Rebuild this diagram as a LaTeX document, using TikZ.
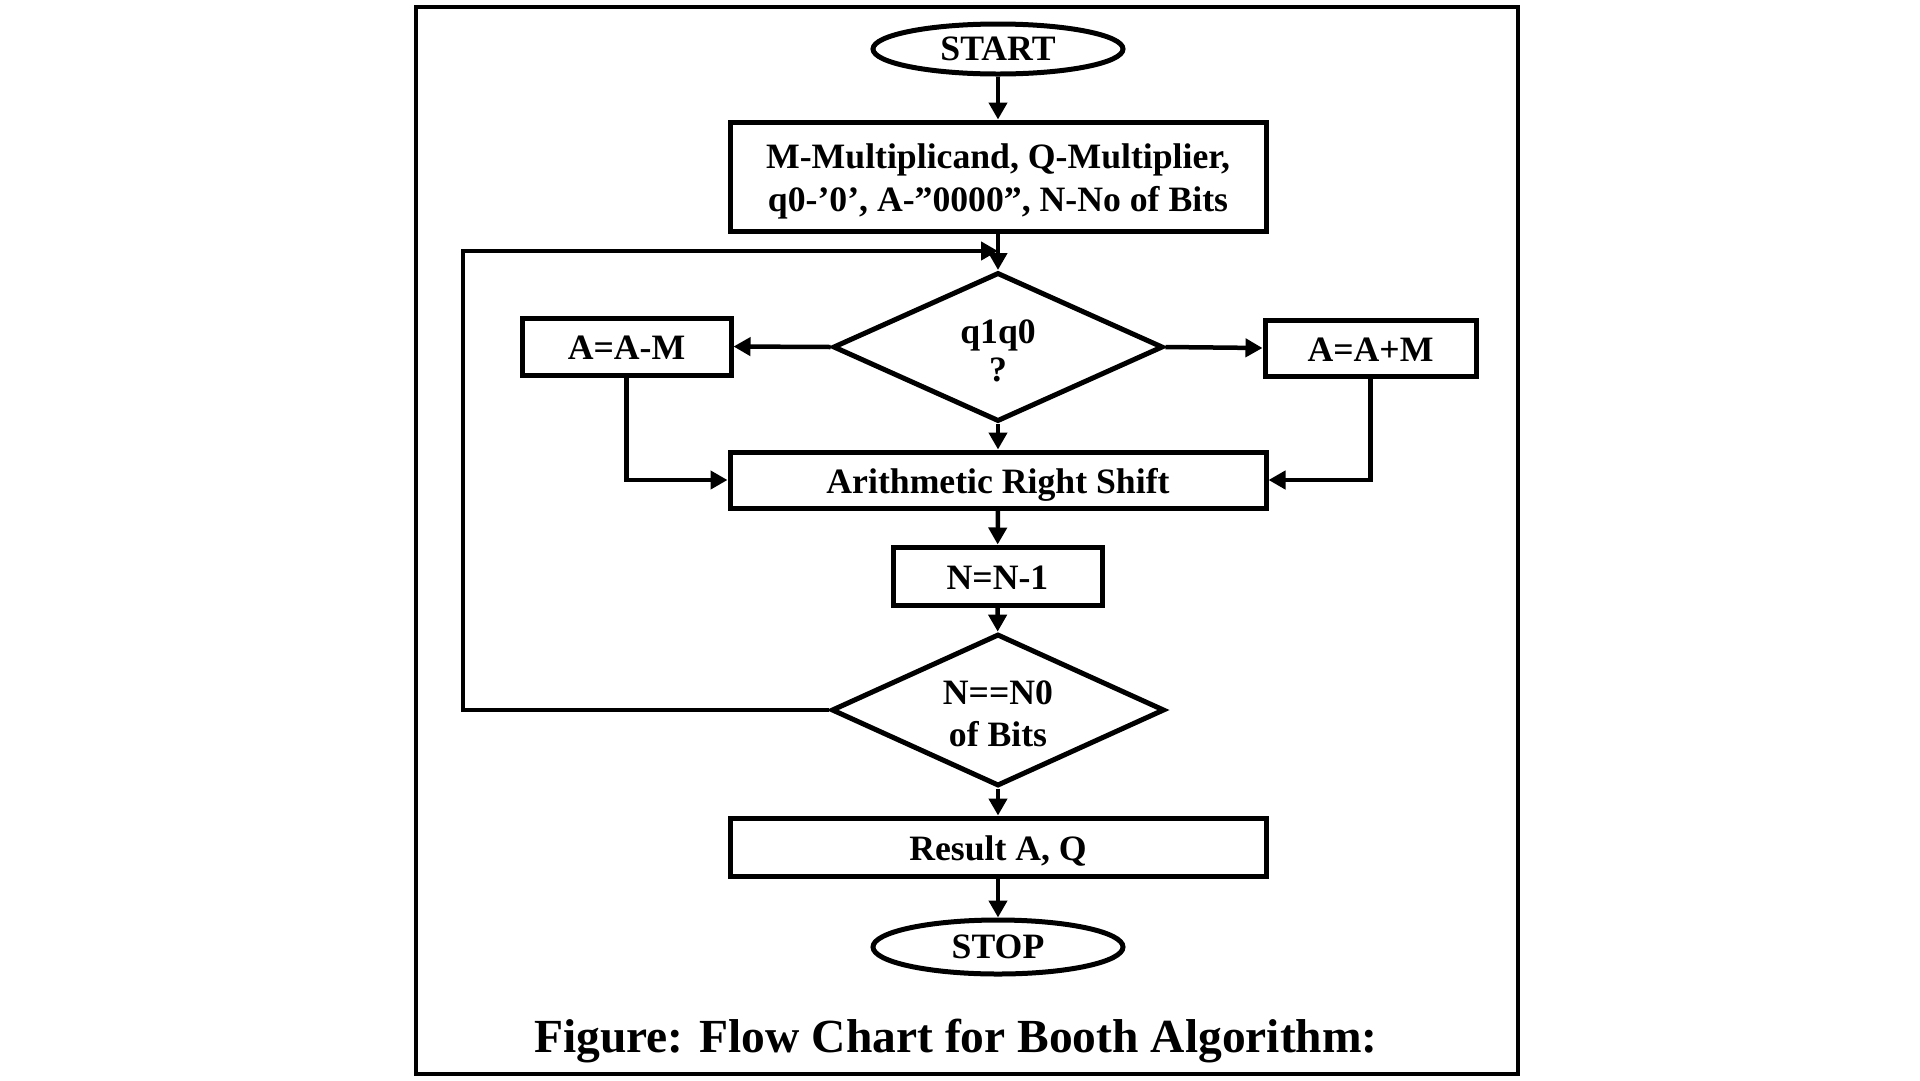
\documentclass[tikz,border=0pt]{standalone}
\usepackage{fontspec}
\setmainfont{Liberation Serif}
\usetikzlibrary{shapes.geometric,arrows.meta}
\newcommand{\lowtxt}[1]{\raisebox{-13pt}[0pt][0pt]{#1}}
\begin{document}
\begin{tikzpicture}[x=1pt,y=1pt,
  every node/.style={font=\bfseries\fontsize{35.7}{42}\selectfont, align=center, inner sep=0pt},
  procbox/.style={draw, line width=5pt, rectangle},
  termbox/.style={draw, line width=5pt, ellipse},
  decbox/.style={draw, line width=5pt, diamond},
  conn/.style={line width=4.5pt, -{Triangle[length=17pt,width=18pt]}}
]
\useasboundingbox (0,0) rectangle (1920,-1080);
\draw[line width=4.5pt] (416,-7) rectangle (1518,-1074);

\node[termbox, minimum width=250, minimum height=50] (start) at (998,-49) {START};
\node[procbox, minimum width=536, minimum height=109] (init) at (998,-176.5) {\rule{0pt}{34pt}M-Multiplicand, Q-Multiplier,\\[1pt]q0-’0’, A-”0000”, N-No of Bits};
\node[decbox, minimum width=330, minimum height=149, aspect=2.2] (dec1) at (998,-347) {\rule{0pt}{31pt}q1q0\\[-4pt]?};
\node[procbox, minimum width=209, minimum height=57] (sub) at (626.5,-346.5) {\lowtxt{A=A-M}};
\node[procbox, minimum width=211, minimum height=56] (add) at (1370.5,-348) {\lowtxt{A=A+M}};
\node[procbox, minimum width=536, minimum height=56] (ars) at (998,-480) {\lowtxt{Arithmetic Right Shift}};
\node[procbox, minimum width=209, minimum height=58] (dec) at (997.5,-576) {\lowtxt{N=N-1}};
\node[decbox, minimum width=333, minimum height=152, aspect=2.2] (dec2) at (998,-710) {\rule{0pt}{32pt}N==N0\\of Bits};
\node[procbox, minimum width=536, minimum height=58] (res) at (998,-847) {\lowtxt{Result A, Q}};
\node[termbox, minimum width=250, minimum height=54] (stop) at (998,-947) {STOP};
\node[font=\bfseries\fontsize{47.5}{56}\selectfont] (cap) at (956,-1041) {Figure: Flow Chart for Booth Algorithm:};

\coordinate (join) at (998,-251);
\coordinate (lb) at (463,-710);
\coordinate (lt) at (463,-251);

\draw[conn] (start) -- (init);
\draw[conn] (init) -- (dec1);
\draw[conn] (dec2.west) -- (lb) -- (lt) -- (join);
\draw[conn] (dec1.west) -- (sub.east);
\draw[conn] (dec1.east) -- (add.west);
\draw[conn] (dec1.south) -- (ars.north);
\draw[conn] (sub.south) |- (ars.west);
\draw[conn] (add.south) |- (ars.east);
\draw[conn] (ars) -- (dec);
\draw[conn] (dec) -- (dec2);
\draw[conn] (dec2) -- (res);
\draw[conn] (res) -- (stop);
\end{tikzpicture}
\end{document}
